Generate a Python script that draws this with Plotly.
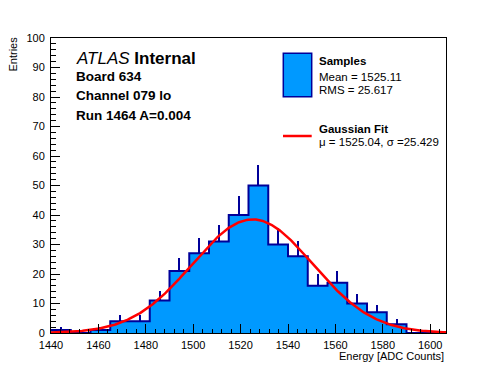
import numpy as np
import plotly.graph_objects as go

# ---- data ----
x_min = 1440.0
x_max = 1606.67
n_bins = 20
counts = [1, 0, 1, 4, 4, 11, 21, 27, 31, 40, 50, 30, 26, 16, 17, 10, 7, 3, 0, 0]
fit_mu = 1525.04
fit_sigma = 25.429
fit_amp = 38.5
legend_samples = ["Mean = 1525.11", "RMS = 25.617"]
legend_fit = "\u03bc = 1525.04, \u03c3 =25.429"
label_lines = ["Board 634", "Channel 079 lo", "Run 1464 A=0.004"]

# ---- derived ----
edges = np.linspace(x_min, x_max, n_bins + 1)
bw = edges[1] - edges[0]
centers = 0.5 * (edges[:-1] + edges[1:])
counts_arr = np.array(counts, dtype=float)
err = np.sqrt(counts_arr)

FONT = "Liberation Sans, Arial, Helvetica, sans-serif"
FILL = "#0099ff"
EDGE = "#000099"

fig = go.Figure()

fig.add_trace(go.Bar(
    x=centers, y=counts_arr, width=bw,
    marker=dict(color=FILL, line=dict(width=0)),
    error_y=dict(type="data", symmetric=False, array=err,
                 arrayminus=np.zeros_like(err), width=0, thickness=2, color=EDGE),
    showlegend=False, hoverinfo="skip",
))

step_x = list(edges)
step_y = list(counts_arr) + [counts_arr[-1]]
fig.add_trace(go.Scatter(
    x=step_x, y=step_y, mode="lines", line=dict(shape="hv", color=EDGE, width=2),
    showlegend=False, hoverinfo="skip",
))

xf = np.linspace(x_min, x_max, 400)
yf = fit_amp * np.exp(-0.5 * ((xf - fit_mu) / fit_sigma) ** 2)
fig.add_trace(go.Scatter(
    x=xf, y=yf, mode="lines", line=dict(color="#ff0000", width=2.5),
    showlegend=False, hoverinfo="skip",
))

# page has an 8px body margin; figure is placed at (8, 8)
OFF = 8
W, H = 496 - OFF, 372 - OFF
# plot area in page pixels (reference)
L, R, T, B = 51, 446, 38, 333


def px(xp):
    return (xp - L) / (R - L)


def py(yp):
    return (B - yp) / (B - T)


ann = []
ann.append(dict(x=px(74), y=py(58), xref="paper", yref="paper", xanchor="left", yanchor="middle",
                text="<i>ATLAS</i> <b>Internal</b>", showarrow=False,
                font=dict(family=FONT, size=17, color="black")))
for txt, yy in zip(label_lines, [76, 95.5, 115]):
    ann.append(dict(x=px(74), y=py(yy), xref="paper", yref="paper", xanchor="left", yanchor="middle",
                    text="<b>" + txt + "</b>", showarrow=False,
                    font=dict(family=FONT, size=13.5, color="black")))

# legend
ann.append(dict(x=px(317), y=py(61.5), xref="paper", yref="paper", xanchor="left", yanchor="middle",
                text="<b>Samples</b>", showarrow=False, font=dict(family=FONT, size=11.5, color="black")))
for txt, yy in zip(legend_samples, [77.3, 90]):
    ann.append(dict(x=px(317), y=py(yy), xref="paper", yref="paper", xanchor="left", yanchor="middle",
                    text=txt, showarrow=False, font=dict(family=FONT, size=11.5, color="black")))
ann.append(dict(x=px(317), y=py(129.3), xref="paper", yref="paper", xanchor="left", yanchor="middle",
                text="<b>Gaussian Fit</b>", showarrow=False, font=dict(family=FONT, size=11.5, color="black")))
ann.append(dict(x=px(317), y=py(142.3), xref="paper", yref="paper", xanchor="left", yanchor="middle",
                text=legend_fit, showarrow=False, font=dict(family=FONT, size=11.5, color="black")))

# axis titles
ann.append(dict(x=px(445.5), y=py(356), xref="paper", yref="paper", xanchor="right", yanchor="middle",
                text="Energy [ADC Counts]", showarrow=False, font=dict(family=FONT, size=11, color="black")))
ann.append(dict(x=px(13), y=py(35), xref="paper", yref="paper", xanchor="center", yanchor="top",
                text="Entries", textangle=-90, showarrow=False, font=dict(family=FONT, size=11, color="black")))

shapes = [
    dict(type="rect", xref="paper", yref="paper", x0=px(283.3), x1=px(311.7), y0=py(96.7), y1=py(53.3),
         fillcolor=FILL, line=dict(color=EDGE, width=1.5)),
    dict(type="line", xref="paper", yref="paper", x0=px(283), x1=px(311.7), y0=py(136), y1=py(136),
         line=dict(color="#ff0000", width=2.5)),
]

axis_common = dict(showline=True, linecolor="black", linewidth=1, mirror=True, ticks="inside",
                   tickcolor="black", tickwidth=1, ticklen=9, showgrid=False, zeroline=False,
                   tickfont=dict(family=FONT, size=11, color="black"))

fig.update_layout(
    width=W, height=H,
    margin=dict(l=L - OFF, r=W - (R - OFF), t=T - OFF, b=H - (B - OFF), pad=0),
    paper_bgcolor="white", plot_bgcolor="white",
    bargap=0,
    xaxis=dict(range=[x_min, x_max], dtick=20, tick0=1440, ticklabelstandoff=2,
               minor=dict(dtick=4, ticks="inside", ticklen=4.5, tickcolor="black", tickwidth=1, showgrid=False),
               **axis_common),
    yaxis=dict(range=[0, 100], dtick=10, tick0=0, ticklabelstandoff=3,
               minor=dict(dtick=2, ticks="inside", ticklen=4.5, tickcolor="black", tickwidth=1, showgrid=False),
               **axis_common),
    annotations=ann,
    shapes=shapes,
    showlegend=False,
)

fig.write_html("out.html")
